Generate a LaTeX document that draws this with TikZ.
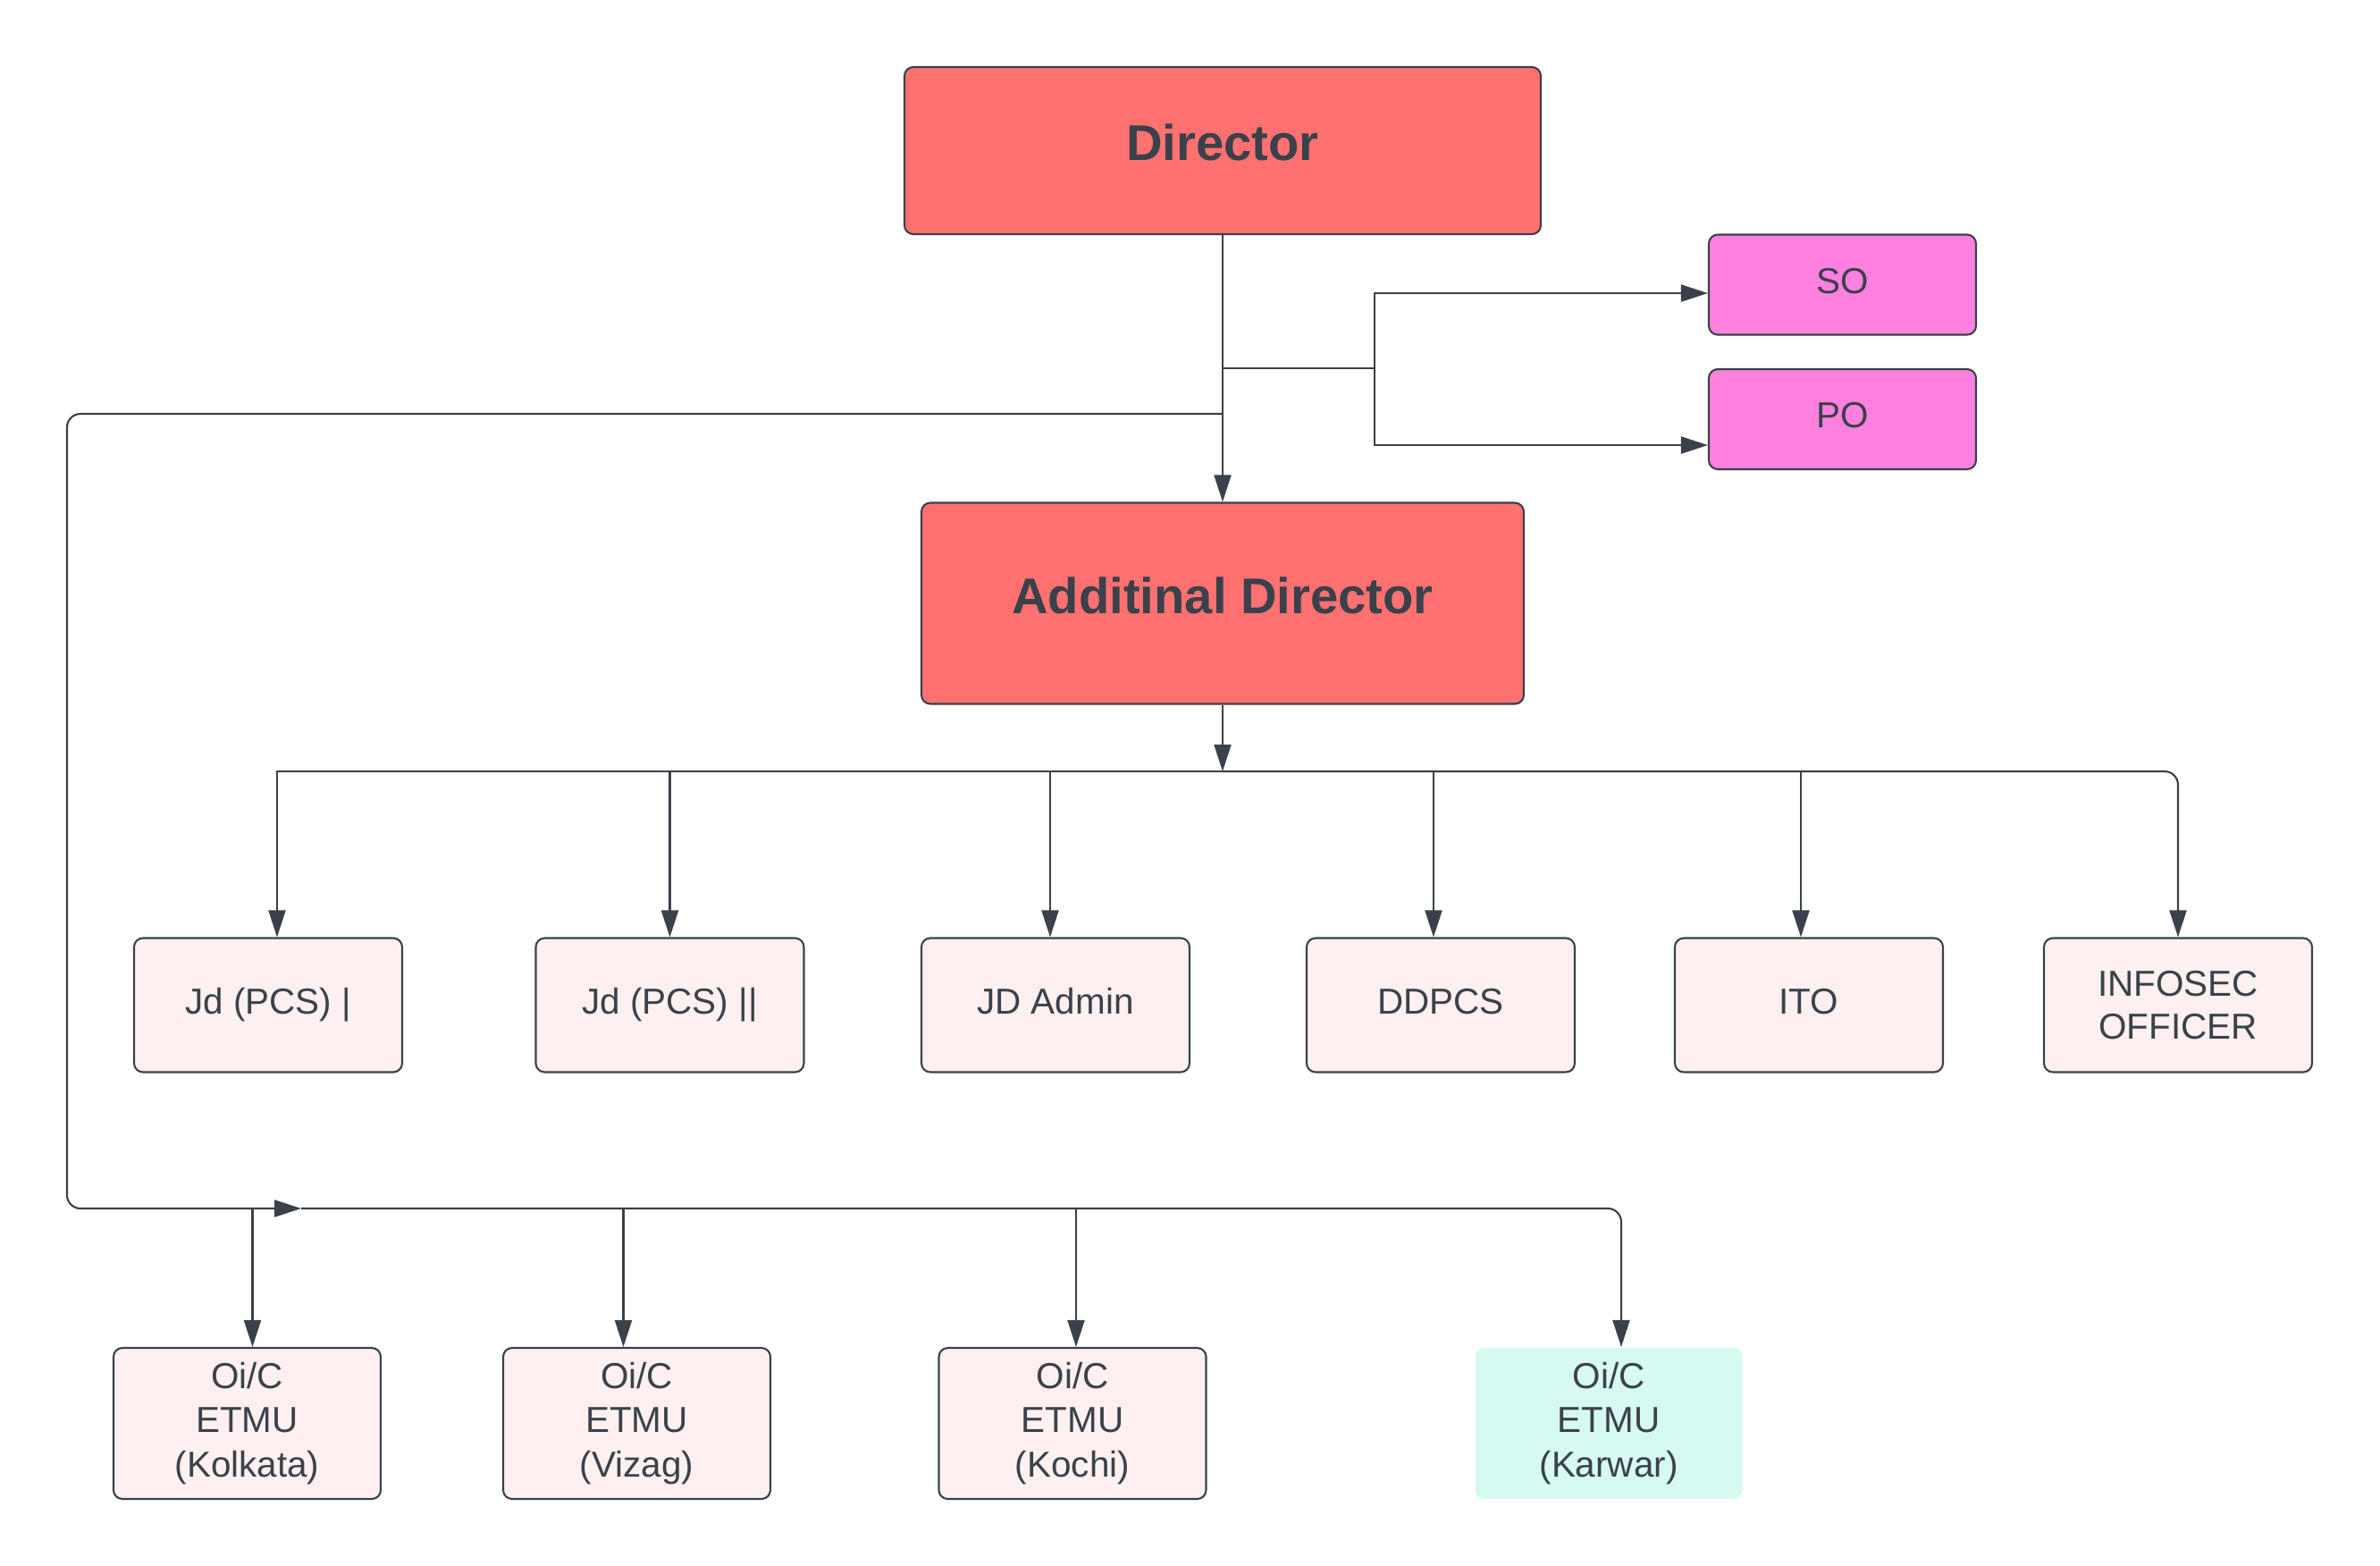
\documentclass[tikz,border=0pt]{standalone}
\usepackage{fontspec}
\setmainfont{Liberation Sans}
\usepackage{tikz}
\usetikzlibrary{arrows.meta,positioning}

\definecolor{ink}{RGB}{58,65,74}
\definecolor{chiefred}{RGB}{255,113,113}
\definecolor{aidepink}{RGB}{255,128,223}
\definecolor{unitpink}{RGB}{254,240,240}
\definecolor{unitmint}{RGB}{214,249,242}

\begin{document}
\begin{tikzpicture}
			\tikzstyle{Box}		= [rectangle, rounded corners=1mm, draw=ink, line width=0.6pt, text=ink, align=center, inner sep=0pt, font=\fontsize{11.5}{14.2}\selectfont]
			\tikzstyle{OneLine}	= [text height=8.3pt, text depth=2.9pt]
			\tikzstyle{Chief}	= [Box, fill=chiefred, text depth=1.8mm, font=\fontsize{16}{19}\selectfont\bfseries]
			\tikzstyle{Aide}	= [Box, OneLine, fill=aidepink, minimum width=2.99cm, minimum height=1.12cm]
			\tikzstyle{Desk}	= [Box, fill=unitpink, minimum width=3cm, minimum height=1.5cm]
			\tikzstyle{Etmu}	= [Box, fill=unitpink, minimum width=2.99cm, minimum height=1.69cm]
			\tikzstyle{NewUnit}	= [fill=unitmint, draw=none]
			\tikzstyle{Link}	= [draw=ink, line width=0.6pt, >={Triangle[length=3mm,width=1.9mm]}]
			\tikzstyle{Bend}	= [rounded corners=1.5mm]

			\useasboundingbox (0,0) rectangle (26.63,-17.51);

			% top
			\node (dir) at (13.68,-1.685) [Chief, minimum width=7.12cm, minimum height=1.87cm] {Director};
			\node (so) at (20.615,-3.185) [Aide] {SO};
			\node (po) at (20.615,-4.69) [Aide] {PO};
			\node (addl) at (13.68,-6.75) [Chief, minimum width=6.74cm, minimum height=2.25cm] {Additinal Director};

			% second row
			\node (jd1) at (3.00,-11.245) [Desk, OneLine] {Jd (PCS) |};
			\node (jd2) at (7.495,-11.245) [Desk, OneLine] {Jd (PCS) ||};
			\node (jdadm) at (11.81,-11.245) [Desk, OneLine] {JD Admin};
			\node (ddpcs) at (16.12,-11.245) [Desk, OneLine] {DDPCS};
			\node (ito) at (20.24,-11.245) [Desk, OneLine] {ITO};
			\node (infosec) at (24.37,-11.245) [Desk, font=\fontsize{11.5}{13.8}\selectfont] {INFOSEC\\OFFICER};

			% etmu row
			\node (kol) at (2.765,-15.925) [Etmu] {Oi/C\\ETMU\\(Kolkata)};
			\node (viz) at (7.125,-15.925) [Etmu] {Oi/C\\ETMU\\(Vizag)};
			\node (koc) at (12.0,-15.925) [Etmu] {Oi/C\\ETMU\\(Kochi)};
			\node (kar) at (18.0,-15.925) [Etmu, NewUnit] {Oi/C\\ETMU\\(Karwar)};

			\coordinate (split) at (15.38,-4.12);
			\coordinate (loop) at (13.68,-4.63);
			\coordinate (adbus) at (13.68,-8.63);
			\coordinate (etmubus) at (3.37,-13.52);

			\draw [Link, ->] (dir) to (addl);
			\draw [Link] (dir.south |- split) -- (split);
			\draw [Link, ->] (split) |- ([yshift=-0.95mm]so.west);
			\draw [Link, ->] (split) |- ([yshift=-2.9mm]po.west);

			\draw [Link, ->, Bend] (loop) -| (0.75,-13.52) -- (etmubus);
			\draw [Link, ->, Bend] (etmubus) -| ([xshift=1.4mm]kar.north);
			\draw [Link, ->] ([xshift=0.6mm]kol.north |- etmubus) -- ([xshift=0.6mm]kol.north);
			\draw [Link, ->] ([xshift=-1.5mm]viz.north |- etmubus) -- ([xshift=-1.5mm]viz.north);
			\draw [Link, ->] ([xshift=0.4mm]koc.north |- etmubus) -- ([xshift=0.4mm]koc.north);

			\draw [Link, ->] (addl) -- (adbus);
			\draw [Link, ->] (adbus) -| ([xshift=1mm]jd1.north);
			\draw [Link, ->, Bend] (adbus) -| (infosec.north);
			\foreach \n/\s in {jd2/0mm, jdadm/-0.6mm, ddpcs/-0.8mm, ito/-0.9mm}
				\draw [Link, ->] ([xshift=\s]\n.north |- adbus) -- ([xshift=\s]\n.north);
		\end{tikzpicture}
\end{document}
